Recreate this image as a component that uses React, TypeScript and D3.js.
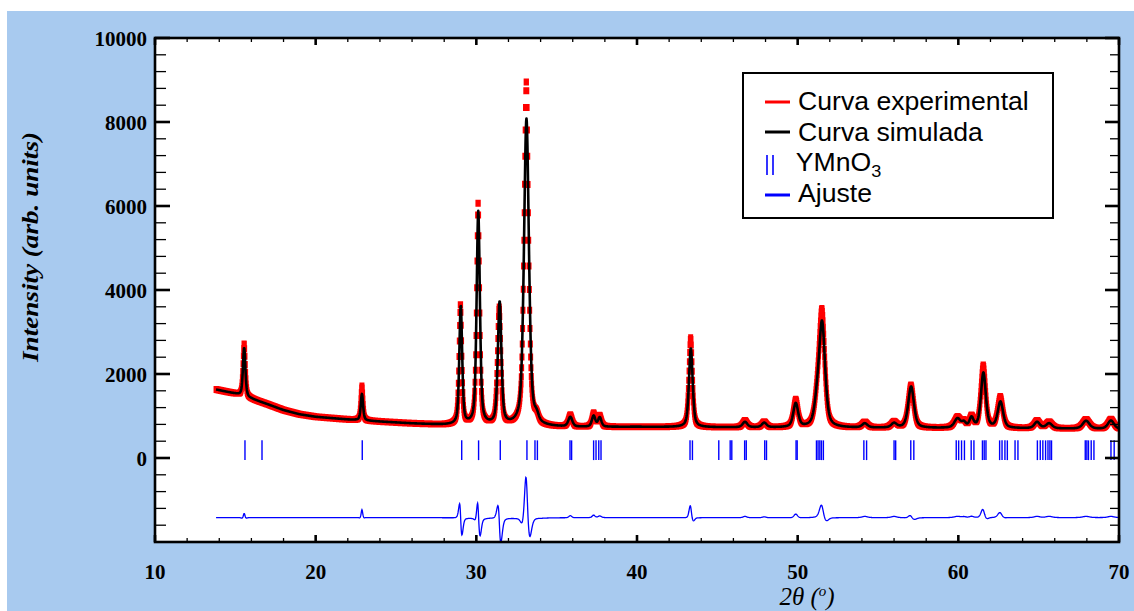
import React, { useMemo } from "react";
import * as d3 from "d3";

// ---------- data ----------
const xTickValues = [10, 20, 30, 40, 50, 60, 70];
const yTickValues = [0, 2000, 4000, 6000, 8000, 10000];
const xDomain = [10, 70];
const yDomain = [-2000, 10000];

// background level (counts) under the pattern
const bgAngle = [13.8, 15.0, 16.0, 17.0, 18.0, 19.0, 20.0, 22.0, 24.0, 26.0, 28.0, 30.0, 33.0, 36.0, 40.0, 45.0, 50.0, 55.0, 60.0, 65.0, 70.0];
const bgLevel = [1630, 1530, 1410, 1280, 1140, 1040, 980, 915, 865, 820, 785, 765, 745, 730, 740, 728, 720, 714, 708, 702, 688];

// reflections of the simulated (calculated) curve
const peakPos = [15.55, 22.88, 29.03, 30.12, 31.45, 33.12, 33.75, 35.85, 37.30, 37.68, 43.35, 46.72, 47.92, 49.88, 51.20, 51.52, 54.18, 56.00, 57.06, 59.95, 60.35, 60.82, 61.56, 62.62, 64.90, 65.65, 67.95, 69.50];
const peakCalcHeight = [1160, 630, 2820, 5080, 2920, 7320, 150, 230, 260, 220, 1880, 130, 110, 565, 440, 2450, 100, 105, 985, 220, 110, 230, 1310, 620, 150, 120, 190, 200];
const peakCalcFwhm = [0.18, 0.17, 0.21, 0.24, 0.26, 0.36, 0.30, 0.30, 0.25, 0.25, 0.27, 0.35, 0.35, 0.36, 0.40, 0.44, 0.40, 0.40, 0.42, 0.45, 0.30, 0.30, 0.36, 0.40, 0.40, 0.45, 0.50, 0.45];

// observed (experimental) peaks
const peakObsPos = [15.55, 22.88, 29.01, 30.11, 31.42, 33.11, 33.75, 35.85, 37.30, 37.68, 43.34, 46.72, 47.92, 49.88, 51.20, 51.51, 54.18, 56.00, 57.05, 59.95, 60.35, 60.82, 61.55, 62.61, 64.90, 65.65, 67.95, 69.50];
const peakObsHeight = [1260, 820, 2860, 5300, 2780, 8220, 160, 280, 320, 260, 2130, 160, 130, 650, 470, 2720, 130, 135, 1020, 250, 130, 260, 1490, 735, 180, 150, 220, 230];
const peakObsFwhm = [0.17, 0.15, 0.20, 0.22, 0.25, 0.32, 0.30, 0.28, 0.24, 0.25, 0.25, 0.33, 0.33, 0.34, 0.40, 0.41, 0.40, 0.40, 0.40, 0.45, 0.30, 0.30, 0.34, 0.38, 0.40, 0.45, 0.50, 0.45];

// Bragg reflection positions of YMnO3
const braggPos = [15.6, 16.66, 22.9, 29.09, 30.14, 31.49, 33.15, 33.65, 33.8, 35.83, 35.93, 37.3, 37.45, 37.62, 37.76, 43.3, 43.45, 45.09, 45.8, 45.9, 46.7, 46.8, 47.95, 48.06, 49.9, 49.97, 51.17, 51.27, 51.38, 51.48, 51.6, 54.12, 54.29, 56.0, 56.1, 57.04, 57.23, 59.87, 60.02, 60.2, 60.38, 60.8, 60.97, 61.5, 61.61, 61.72, 62.57, 62.72, 62.9, 63.05, 63.53, 63.71, 64.92, 65.1, 65.26, 65.43, 65.58, 65.7, 65.8, 67.9, 68.0, 68.1, 68.27, 68.44, 69.5, 69.7];
const braggTop = 420;
const braggBottom = -50;

const diffOffset = -1420;
const scanStart = 13.8;
const scanEnd = 70;
const scanStep = 0.02;

const legendLabels = ["Curva experimental", "Curva simulada", "YMnO", "Ajuste"];

// ---------- helpers ----------
const ETA = 0.5;
function pv(t: number, x0: number, h: number, w: number) {
  const u = (t - x0) / w;
  const g = Math.exp(-4 * Math.LN2 * u * u);
  const l = 1 / (1 + 4 * u * u);
  return h * (ETA * l + (1 - ETA) * g);
}

const PL = 155, PR = 1119, PT = 38, PB = 542;
const serif = "'Liberation Serif', 'Times New Roman', Times, serif";
const sans = "'Liberation Sans', Arial, Helvetica, sans-serif";

export default function App() {
  const x = d3.scaleLinear().domain(xDomain).range([PL, PR]);
  const y = d3.scaleLinear().domain(yDomain).range([PB, PT]);
  const bg = d3.scaleLinear().domain(bgAngle).range(bgLevel).clamp(true);

  const { calc, obs, diff } = useMemo(() => {
    const angles = d3.range(scanStart, scanEnd + 1e-9, scanStep);
    const calc: [number, number][] = [];
    const obs: [number, number][] = [];
    const diff: [number, number][] = [];
    for (const t of angles) {
      let c = bg(t);
      let o = bg(t);
      for (let i = 0; i < peakPos.length; i++) {
        c += pv(t, peakPos[i], peakCalcHeight[i], peakCalcFwhm[i]);
        o += pv(t, peakObsPos[i], peakObsHeight[i], peakObsFwhm[i]);
      }
      calc.push([t, c]);
      obs.push([t, o]);
      diff.push([t, o - c + diffOffset]);
    }
    return { calc, obs, diff };
  }, []);

  const line = d3.line<[number, number]>().x((d) => x(d[0])).y((d) => y(d[1]));

  let obsPath = "";
  for (const [t, v] of obs) {
    const px = x(t), py = y(v);
    obsPath += `M${(px - 2.5).toFixed(2)},${(py - 3.5).toFixed(2)}h5v7h-5z`;
  }

  const xMinor = d3.range(10, 70.001, 2);
  const yMinor = d3.range(-2000, 10000.001, 400);

  return (
    <svg width={1134} height={611} style={{ position: "absolute", left: 0, top: 0 }}>
      <rect x={0} y={0} width={1134} height={611} fill="#ffffff" />
      <rect x={7} y={11} width={1127} height={600} fill="#A8CAEF" />
      <rect x={PL} y={PT} width={PR - PL} height={PB - PT} fill="#ffffff" />
      <defs>
        <clipPath id="plotclip">
          <rect x={PL} y={PT} width={PR - PL} height={PB - PT} />
        </clipPath>
      </defs>

      <g clipPath="url(#plotclip)">
        <path d={obsPath} fill="#FF0000" />
        <path d={line(calc) || ""} fill="none" stroke="#000" strokeWidth={2.6} strokeLinejoin="round" />
        {braggPos.map((b, i) => (
          <line key={i} x1={x(b)} x2={x(b)} y1={y(braggTop)} y2={y(braggBottom)} stroke="#0000FF" strokeWidth={1.4} />
        ))}
        <path d={line(diff) || ""} fill="none" stroke="#0000FF" strokeWidth={1.3} />
      </g>

      {/* ticks */}
      <g stroke="#000">
        {yMinor.map((v, i) => {
          const major = yTickValues.includes(v);
          return (
            <g key={"ym" + i}>
              <line x1={PL} x2={PL + (major ? 15 : 11)} y1={y(v)} y2={y(v)} strokeWidth={major ? 2.6 : 1.3} />
              <line x1={PR} x2={PR - (major ? 14 : 9)} y1={y(v)} y2={y(v)} strokeWidth={major ? 2.6 : 1.3} />
            </g>
          );
        })}
        {xMinor.map((v, i) => {
          const major = xTickValues.includes(v);
          return (
            <g key={"xm" + i}>
              <line x1={x(v)} x2={x(v)} y1={PB} y2={PB - (major ? 7 : 4)} strokeWidth={major ? 2.6 : 1.3} />
              <line x1={x(v)} x2={x(v)} y1={PT} y2={PT + (major ? 7 : 4)} strokeWidth={major ? 2.6 : 1.3} />
            </g>
          );
        })}
      </g>
      <rect x={PL} y={PT} width={PR - PL} height={PB - PT} fill="none" stroke="#000" strokeWidth={2.6} />

      {/* tick labels */}
      <g fontFamily={serif} fontWeight="bold" fontSize={21} fill="#000">
        {yTickValues.map((v) => (
          <text key={"yl" + v} x={147} y={y(v) + 7.5} textAnchor="end">{v}</text>
        ))}
        {xTickValues.map((v) => (
          <text key={"xl" + v} x={x(v)} y={579} textAnchor="middle">{v}</text>
        ))}
      </g>

      {/* axis titles */}
      <text
        transform="translate(38,247) rotate(-90)"
        textAnchor="middle"
        fontFamily={serif}
        fontWeight="bold"
        fontStyle="italic"
        fontSize={23}
        textLength={230}
        lengthAdjust="spacingAndGlyphs"
      >
        Intensity (arb. units)
      </text>
      <text x={807} y={605} textAnchor="middle" fontFamily={serif} fontStyle="italic" fontSize={25}>
        2θ (<tspan fontSize={15} dy={-9}>o</tspan><tspan dy={9}>)</tspan>
      </text>

      {/* legend */}
      <rect x={743} y={73} width={310} height={145} fill="#fff" stroke="#000" strokeWidth={2} />
      <line x1={765} x2={790} y1={102} y2={102} stroke="#FF0000" strokeWidth={3} />
      <line x1={765} x2={790} y1={132} y2={132} stroke="#000" strokeWidth={3} />
      <line x1={767} x2={767} y1={155} y2={175} stroke="#0000FF" strokeWidth={1.6} />
      <line x1={773} x2={773} y1={155} y2={175} stroke="#0000FF" strokeWidth={1.6} />
      <line x1={765} x2={790} y1={195} y2={195} stroke="#0000FF" strokeWidth={3} />
      <g fontFamily={sans} fontSize={25} fill="#000" transform="translate(798,0) scale(1.065,1)">
        <text x={0} y={110}>{legendLabels[0]}</text>
        <text x={0} y={141}>{legendLabels[1]}</text>
        <text x={-2} y={171}>{legendLabels[2]}<tspan fontSize={17} dy={6}>3</tspan></text>
        <text x={0} y={202}>{legendLabels[3]}</text>
      </g>
    </svg>
  );
}
